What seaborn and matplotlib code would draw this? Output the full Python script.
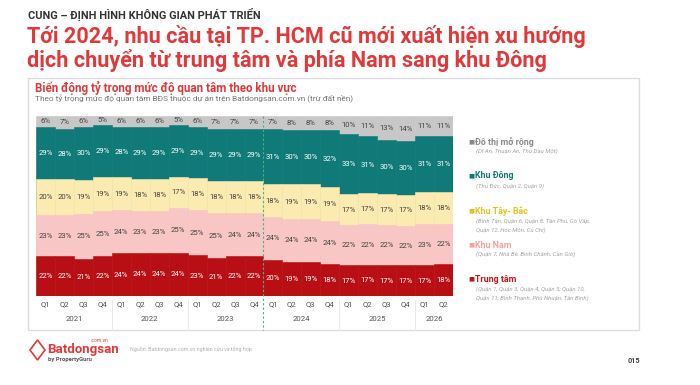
import matplotlib.pyplot as plt
import matplotlib.transforms as mtransforms
from matplotlib.patches import Rectangle, Polygon
import seaborn as sns
import pandas as pd

sns.set_style('white')
plt.rcParams['font.family'] = ['Roboto', 'DejaVu Sans']

# quarters Q1 2021 .. Q2 2026
years = ['2021', '2022', '2023', '2024', '2025', '2026']
quarters_per_year = [4, 4, 4, 4, 4, 2]
q_labels = ['Q1', 'Q2', 'Q3', 'Q4'] * 5 + ['Q1', 'Q2']

# shares (%) per region, bottom to top
trung_tam = [22, 22, 21, 22, 24, 24, 24, 24, 23, 21, 22, 22, 20, 19, 19, 18, 17, 17, 17, 17, 17, 18]
khu_nam = [23, 23, 25, 25, 24, 23, 23, 25, 25, 25, 24, 24, 24, 24, 24, 24, 22, 22, 22, 22, 23, 22]
khu_tay_bac = [20, 20, 19, 19, 19, 18, 18, 17, 18, 18, 18, 18, 18, 19, 19, 19, 17, 17, 17, 17, 18, 18]
khu_dong = [29, 28, 30, 29, 28, 29, 29, 29, 29, 29, 29, 29, 31, 30, 30, 32, 33, 31, 30, 30, 31, 31]
do_thi = [6, 7, 6, 5, 6, 6, 6, 5, 6, 7, 7, 7, 7, 8, 8, 8, 10, 11, 13, 14, 11, 11]

series = [
    ('Trung tâm', trung_tam, '#b80f14', 'white'),
    ('Khu Nam', khu_nam, '#f8c6c4', '#444444'),
    ('Khu Tây- Bắc', khu_tay_bac, '#fcebb0', '#444444'),
    ('Khu Đông', khu_dong, '#0f7a78', 'white'),
    ('Đô thị mở rộng', do_thi, '#c7c7c7', '#444444'),
]

legend_sub = {
    'Đô thị mở rộng': ['(Dĩ An, Thuận An, Thủ Dầu Một)'],
    'Khu Đông': ['(Thủ Đức, Quận 2, Quận 9)'],
    'Khu Tây- Bắc': ['(Bình Tân, Quận 6, Quận 8, Tân Phú, Gò Vấp,', 'Quận 12, Hóc Môn, Củ Chi)'],
    'Khu Nam': ['(Quận 7, Nhà Bè, Bình Chánh, Cần Giờ)'],
    'Trung tâm': ['(Quận 1, Quận 3, Quận 4, Quận 5, Quận 10,', 'Quận 11, Bình Thạnh, Phú Nhuận, Tân Bình)'],
}
legend_color = {
    'Đô thị mở rộng': '#8a8a8a',
    'Khu Đông': '#0f7a78',
    'Khu Tây- Bắc': '#e6c21e',
    'Khu Nam': '#f2a3a0',
    'Trung tâm': '#c0161b',
}

periods = []
for y, n in zip(years, quarters_per_year):
    for q in range(n):
        periods.append(f'{y}-Q{q + 1}')

df = pd.DataFrame({name: vals for name, vals, _, _ in series}, index=periods)
total = df.sum(axis=1)
frac = df.div(total, axis=0)
cum = frac.cumsum(axis=1)

W, H = 700, 385
fig = plt.figure(figsize=(7, 3.85), dpi=100)


def fx(px):
    return px / W


def fy(py):
    return 1 - py / H


# panel box (behind the axes)
fig.patches.append(Rectangle((fx(28), fy(330)), fx(639) - fx(28), fy(78) - fy(330),
                             transform=fig.transFigure, facecolor='white',
                             edgecolor='#dcdcdc', linewidth=1.0, zorder=-5))

ax = fig.add_axes([fx(36), fy(296), fx(453) - fx(36), fy(116) - fy(296)])
ax.set_zorder(2)
ax.patch.set_alpha(0)

# stacked bars: draw cumulative from top layer down
names = [s[0] for s in series]
for i in range(len(series) - 1, -1, -1):
    name, _, color, _ = series[i]
    d = pd.DataFrame({'period': periods, 'value': cum[name].values})
    sns.barplot(data=d, x='period', y='value', order=periods, color=color,
                saturation=1, width=1.0, linewidth=0.4, edgecolor=color, ax=ax)

# labels
for i, name in enumerate(names):
    txtcol = series[i][3]
    for j, p in enumerate(periods):
        top = cum[name].iloc[j]
        mid = top - frac[name].iloc[j] / 2
        ax.text(j, mid, f'{df[name].iloc[j]}%', ha='center', va='center',
                fontsize=5.6, color=txtcol)

ax.set_xlim(-0.5, len(periods) - 0.5)
ax.set_ylim(0, 1)
ax.set_xlabel('')
ax.set_ylabel('')
ax.set_yticks([])
ax.set_xticks(range(len(periods)))
ax.set_xticklabels(q_labels, fontsize=5.6, color='#555555')
ax.tick_params(axis='x', length=0, pad=4)
for s in ax.spines.values():
    s.set_visible(False)

trans = mtransforms.blended_transform_factory(ax.transData, ax.transAxes)
start = 0
for k, (y, n) in enumerate(zip(years, quarters_per_year)):
    ax.text(start + (n - 1) / 2, -0.13, y, transform=trans, ha='center', va='center',
            fontsize=5.6, color='#555555')
    if k > 0 and k != 3:
        ax.plot([start - 0.5, start - 0.5], [-0.02, -0.19], transform=trans,
                color='#e6e6e6', lw=0.6, clip_on=False)
    start += n

# dashed divider before 2024
ax.plot([11.5, 11.5], [1.0, -0.19], transform=trans, color='#4fae86', lw=0.8,
        ls=(0, (2, 2)), clip_on=False, zorder=5)

# header and titles
fig.text(fx(28), fy(14), 'CUNG – ĐỊNH HÌNH KHÔNG GIAN PHÁT TRIỂN', fontsize=7.9,
         fontweight='bold', color='#333333', va='center', ha='left')
fig.text(fx(27), fy(36), 'Tới 2024, nhu cầu tại TP. HCM cũ mới xuất hiện xu hướng',
         fontsize=15.6, fontweight='bold', color='#e0393a', va='center', ha='left')
fig.text(fx(27), fy(60), 'dịch chuyển từ trung tâm và phía Nam sang khu Đông',
         fontsize=15.6, fontweight='bold', color='#e0393a', va='center', ha='left')

fig.text(fx(35), fy(88), 'Biến động tỷ trọng mức độ quan tâm theo khu vực', fontsize=8.4,
         fontweight='bold', color='#e0393a', va='center', ha='left')
fig.text(fx(35), fy(99), 'Theo tỷ trọng mức độ quan tâm BĐS thuộc dự án trên Batdongsan.com.vn (trừ đất nền)',
         fontsize=5.95, color='#777777', va='center', ha='left')

# legend
leg_y = {'Đô thị mở rộng': 142, 'Khu Đông': 176, 'Khu Tây- Bắc': 211, 'Khu Nam': 245, 'Trung tâm': 279}
for name in reversed(names):
    yy = leg_y[name]
    col = legend_color[name]
    fig.text(fx(468), fy(yy), '■', fontsize=4.6, color=col, va='center', ha='left',
             family='DejaVu Sans')
    fig.text(fx(475), fy(yy), name, fontsize=6.4, fontweight='bold', color=col,
             va='center', ha='left')
    for m, line in enumerate(legend_sub[name]):
        fig.text(fx(476), fy(yy + 10 + m * 9.3), line, fontsize=4.3, style='italic',
                 color='#a5a5a5', va='center', ha='left')

# footer
logo_red = '#e23a3a'
fig.patches.append(Polygon([[fx(30), fy(350)], [fx(37.5), fy(340)], [fx(45), fy(350)],
                            [fx(37.5), fy(360)]], closed=True, transform=fig.transFigure,
                           fill=False, edgecolor=logo_red, linewidth=1.2))
fig.text(fx(47), fy(349), 'Batdongsan', fontsize=9.5, fontweight='bold', color=logo_red,
         va='center', ha='left')
fig.text(fx(108), fy(341), '.com.vn', fontsize=3.6, color=logo_red, va='center', ha='right')
fig.text(fx(48), fy(359), 'by PropertyGuru', fontsize=4.2, fontweight='bold', color='#555555',
         va='center', ha='left')
fig.text(fx(130), fy(349), 'Nguồn: Batdongsan.com.vn nghiên cứu và tổng hợp', fontsize=3.8,
         color='#b0b0b0', va='center', ha='left')
fig.text(fx(640), fy(361), '015', fontsize=5.2, fontweight='bold', color='#444444',
         va='center', ha='right')

fig.savefig('out.png', dpi=100)
